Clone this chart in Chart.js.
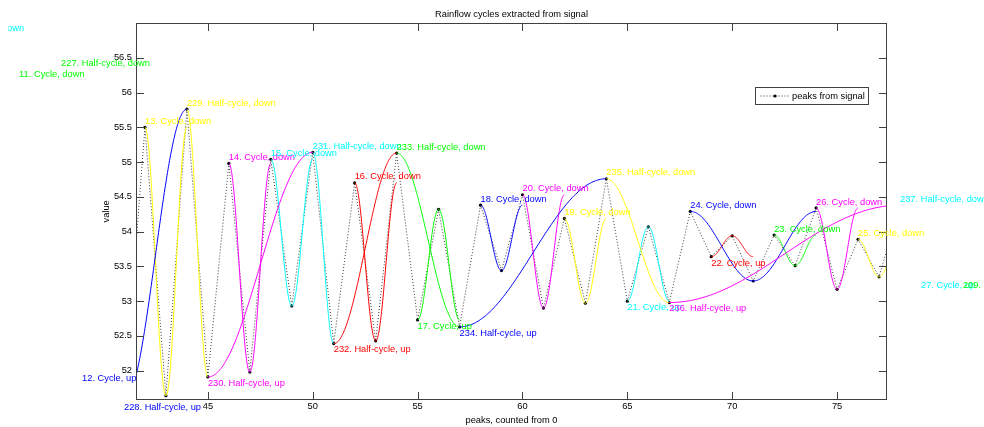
<!DOCTYPE html>
<html>
<head>
<meta charset="utf-8">
<script src="https://cdn.jsdelivr.net/npm/chart.js@4.4.0/dist/chart.umd.min.js"></script>
<style>
  html, body { margin: 0; padding: 0; background: #fff; }
</style>
</head>
<body>
<canvas id="chart" width="984" height="427"></canvas>
<script>
// peaks of the signal (index counted from 0), null where the point is not readable
const peakIdx = [32, 33, 34, 35, 36, 37, 38, 39, 40, 41, 42, 43, 44, 45, 46, 47, 48, 49, 50,
  51, 52, 53, 54, 55, 56, 57, 58, 59, 60, 61, 62, 63, 64, 65, 66, 67, 68, 69, 70,
  71, 72, 73, 74, 75, 76, 77, 78, 79, 80, 81];
const peakVal = [56.83, null, null, null, 56.17, null, 56.33, 51.98, null, 51.56,
  55.50, 51.64, 55.76, 51.91, 54.98, 51.98, 55.04, 52.93, 55.14,
  52.39, 54.70, 52.43, 55.13, 52.73, 54.32, 52.63, 54.38, 53.44, 54.53,
  52.90, 54.19, 52.97, 54.76, 53.00, 54.07, 52.98, 54.29, 53.64, 53.94,
  53.29, 53.95, 53.51, 54.34, 53.17, 53.89, 53.35, 54.38, 53.31, null, 53.31];

const xTicks = [45, 50, 55, 60, 65, 70, 75];
const yTicks = [52, 52.5, 53, 53.5, 54, 54.5, 55, 55.5, 56, 56.5];

// rainflow cycles: label, starting peak, turning peak
const cycleName = ['225. Half-cycle, down', '11. Cycle, down', '227. Half-cycle, down', '12. Cycle, up',
  '228. Half-cycle, up', '13. Cycle, down', '229. Half-cycle, down', '230. Half-cycle, up',
  '14. Cycle, down', '15. Cycle, down', '231. Half-cycle, down', '232. Half-cycle, up',
  '16. Cycle, down', '233. Half-cycle, down', '17. Cycle, up', '234. Half-cycle, up',
  '18. Cycle, down', '20. Cycle, down', '19. Cycle, down', '235. Half-cycle, down',
  '21. Cycle, up', '236. Half-cycle, up', '24. Cycle, down', '22. Cycle, up',
  '23. Cycle, down', '26. Cycle, down', '25. Cycle, down', '237. Half-cycle, down',
  '27. Cycle, up', '209. Cycle, up'];
const cycleFrom = [32, 36, 38, 39, 41, 42, 44, 45, 46, 48, 50, 51, 52, 54, 55, 57, 58, 60, 62, 64,
  65, 67, 68, 69, 72, 74, 76, 78, 79, 81];
const cycleTurn = [null, 37, 41, 40, 44, 43, 45, 50, 47, 49, 51, 54, 53, 57, 56, 64, 59, 61, 63, 67,
  66, 78, 71, 70, 73, 75, 77, null, 80, null];

const FONT = 'Liberation Sans, Arial, Helvetica, sans-serif';
const FS = 9.3;
const palette = ['#0000ff', '#ffff00', '#ff00ff', '#00ffff', '#ff0000', '#00ff00'];

function valueAt(idx) {
  const i = peakIdx.indexOf(idx);
  return i < 0 ? null : peakVal[i];
}

const cycles = cycleName.map((name, i) => ({
  num: parseInt(name),
  name: name,
  from: cycleFrom[i],
  turn: cycleTurn[i],
  down: name.endsWith('down'),
  full: name.indexOf('Half') < 0
})).sort((a, b) => a.num - b.num);

const rainflow = {
  id: 'rainflow',
  afterDatasetsDraw(chart) {
    const {ctx, chartArea: a, scales: {x, y}} = chart;
    ctx.save();
    ctx.beginPath();
    ctx.rect(a.left, a.top, a.right - a.left, a.bottom - a.top);
    ctx.clip();
    ctx.lineWidth = 1;
    for (const c of cycles) {
      const v0 = valueAt(c.from), v1 = c.turn == null ? null : valueAt(c.turn);
      if (v0 == null || v1 == null) continue;
      const span = c.turn - c.from;
      const end = c.full ? c.from + 2 * span : c.turn;
      const mid = (v0 + v1) / 2, amp = (v0 - v1) / 2;
      ctx.strokeStyle = palette[c.num % 6];
      ctx.beginPath();
      const n = 120;
      for (let k = 0; k <= n; k++) {
        const t = c.from + (end - c.from) * k / n;
        const v = mid + amp * Math.cos(Math.PI * (t - c.from) / span);
        const px = x.getPixelForValue(t), py = y.getPixelForValue(v);
        if (k) ctx.lineTo(px, py); else ctx.moveTo(px, py);
      }
      ctx.stroke();
    }
    ctx.restore();
  },
  afterDraw(chart) {
    const {ctx, chartArea: a, scales: {x, y}} = chart;
    const L = Math.round(a.left) + 0.5, R = Math.round(a.right) - 0.5;
    const T = Math.floor(a.top) + 0.5, B = Math.round(a.bottom) + 0.5;
    ctx.save();
    // axes box and inside ticks
    ctx.strokeStyle = '#404040';
    ctx.lineWidth = 1;
    ctx.strokeRect(L, T, R - L, B - T);
    ctx.beginPath();
    for (const v of xTicks) {
      const px = Math.round(x.getPixelForValue(v)) + 0.5;
      ctx.moveTo(px, B); ctx.lineTo(px, B - 7.5);
      ctx.moveTo(px, T); ctx.lineTo(px, T + 7.5);
    }
    for (const v of yTicks) {
      const py = Math.round(y.getPixelForValue(v)) + 0.5;
      ctx.moveTo(L, py); ctx.lineTo(L + 7.5, py);
      ctx.moveTo(R, py); ctx.lineTo(R - 7.5, py);
    }
    ctx.stroke();

    // cycle labels at their starting peaks (figure edge cuts the far left one)
    ctx.save();
    ctx.beginPath();
    ctx.rect(8, 0, chart.width - 8, chart.height);
    ctx.clip();
    ctx.font = FS + 'px ' + FONT;
    ctx.textAlign = 'left';
    ctx.textBaseline = 'middle';
    for (const c of cycles) {
      const v0 = valueAt(c.from);
      if (v0 == null) continue;
      ctx.fillStyle = palette[c.num % 6];
      ctx.fillText(c.name, x.getPixelForValue(c.from), y.getPixelForValue(v0) + (c.down ? -6 : 6.3));
    }
    ctx.restore();

    // legend
    const lx = 755.5, ly = 87.5, lw = 113, lh = 17;
    ctx.fillStyle = '#fff';
    ctx.fillRect(lx, ly, lw, lh);
    ctx.strokeStyle = '#404040';
    ctx.strokeRect(lx, ly, lw, lh);
    const cy = ly + lh / 2;
    ctx.strokeStyle = '#3c3c3c';
    ctx.setLineDash([1, 2]);
    ctx.beginPath();
    ctx.moveTo(lx + 5, cy); ctx.lineTo(lx + 34, cy);
    ctx.stroke();
    ctx.setLineDash([]);
    ctx.fillStyle = '#000';
    ctx.beginPath();
    ctx.arc(lx + 19.5, cy, 1.6, 0, Math.PI * 2);
    ctx.fill();
    ctx.font = FS + 'px ' + FONT;
    ctx.textAlign = 'left';
    ctx.textBaseline = 'middle';
    ctx.fillText('peaks from signal', lx + 36.5, cy);
    ctx.restore();
  }
};

new Chart(document.getElementById('chart'), {
  type: 'line',
  data: {
    datasets: [{
      label: 'peaks from signal',
      data: peakIdx.map((v, i) => ({x: v, y: peakVal[i]})),
      borderColor: '#3c3c3c',
      borderWidth: 1,
      borderDash: [1, 2],
      pointRadius: 1.6,
      pointBackgroundColor: '#000',
      pointBorderColor: '#000',
      pointBorderWidth: 0,
      tension: 0,
      spanGaps: false
    }]
  },
  options: {
    responsive: false,
    animation: false,
    devicePixelRatio: 1,
    layout: {padding: {left: 0, right: 97, top: 0, bottom: 0}},
    plugins: {
      legend: {display: false},
      tooltip: {enabled: false},
      title: {
        display: true,
        fullSize: false,
        text: 'Rainflow cycles extracted from signal',
        color: '#000',
        font: {family: FONT, size: FS, weight: 'normal'},
        padding: {top: 8.4, bottom: 4.1}
      }
    },
    scales: {
      x: {
        type: 'linear',
        min: 41.573,
        max: 77.38,
        afterBuildTicks: s => { s.ticks = xTicks.map(v => ({value: v})); },
        afterFit: s => { s.height = 28; },
        grid: {display: false, drawTicks: false},
        border: {display: false},
        ticks: {color: '#000', padding: 2.1, maxRotation: 0, autoSkip: false,
          font: {family: FONT, size: FS}, callback: v => String(v)},
        title: {display: true, text: 'peaks, counted from 0', color: '#000',
          font: {family: FONT, size: FS}, padding: {top: 0, bottom: 1.4}}
      },
      y: {
        type: 'linear',
        min: 51.593,
        max: 56.99,
        afterBuildTicks: s => { s.ticks = yTicks.map(v => ({value: v})); },
        afterFit: s => { s.width = 136; },
        grid: {display: false, drawTicks: false},
        border: {display: false},
        ticks: {color: '#000', padding: 4, autoSkip: false,
          font: {family: FONT, size: FS}, callback: v => String(v)},
        title: {display: true, text: 'value', color: '#000',
          font: {family: FONT, size: FS}, padding: {top: 100.4, bottom: 0}}
      }
    }
  },
  plugins: [rainflow]
});
</script>
</body>
</html>
